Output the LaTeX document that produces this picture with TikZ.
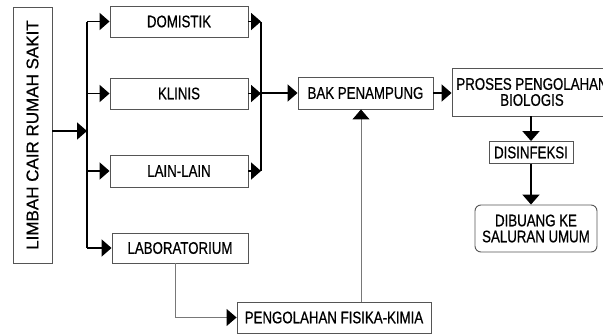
\documentclass[tikz,border=0pt]{standalone}
\usepackage{fontspec}
\setmainfont{Liberation Sans}[FakeStretch=0.79,FakeBold=0.6]
\newfontfamily\widefont{Liberation Sans}[FakeBold=0.6]
\usetikzlibrary{arrows.meta}
\definecolor{boxgray}{RGB}{85,85,85}
\definecolor{linegray}{RGB}{120,120,120}
\begin{document}
\begin{tikzpicture}[x=1pt,y=-1pt,
  box/.style={draw=boxgray, line width=0.9pt, inner sep=0pt, align=center,
    font=\fontsize{16.8}{16}\selectfont},
  flow/.style={line width=1.8pt, -{Triangle[length=10pt 0 0,width=17pt 0 0]}},
  plain/.style={line width=1.8pt},
  thinarrow/.style={draw=linegray, line width=1pt, -{Triangle[length=10pt 0 0,width=17pt 0 0,color=black]}}]
\useasboundingbox (0,0) rectangle (603,335);
\clip (0,0) rectangle (603,335);
\fill[white] (0,0) rectangle (603,335);

\node[box, minimum width=39pt, minimum height=256pt] (limbah) at (32.5,135)
  {\rotatebox{90}{\widefont\fontsize{17}{17}\selectfont LIMBAH CAIR RUMAH SAKIT}};
\node[box, minimum width=138pt, minimum height=31pt] (dom) at (179,21.5) {DOMISTIK};
\node[box, minimum width=138pt, minimum height=31pt] (kli) at (179,93.5) {KLINIS};
\node[box, minimum width=138pt, minimum height=32pt] (lain) at (179,171) {LAIN-LAIN};
\node[box, minimum width=136pt, minimum height=30pt] (lab) at (180,248) {LABORATORIUM};
\node[box, minimum width=194pt, minimum height=31pt] (fis) at (334,317.5) {PENGOLAHAN FISIKA-KIMIA};
\node[box, minimum width=135pt, minimum height=32pt] (bak) at (365.5,93) {BAK PENAMPUNG};
\node[box, minimum width=160pt, minimum height=48pt] (proses) at (532,92) {PROSES PENGOLAHAN\\BIOLOGIS};
\node[box, minimum width=84pt, minimum height=22pt] (dis) at (531,152.5) {DISINFEKSI};
\node[box, minimum width=122pt, minimum height=47pt, rounded corners=6pt] (dib) at (536,228.5) {DIBUANG KE\\SALURAN UMUM};

\coordinate (bl) at (87,131);
\coordinate (cx) at (261,93);
\coordinate (lx) at (175,0);
\coordinate (fx) at (361,0);

\draw[flow] (limbah.east |- bl) -- (bl);
\draw[plain] (bl |- dom.west) -- (bl |- lab.west);
\draw[flow] (bl |- dom.west) -- (dom.west);
\draw[flow] (bl |- kli.west) -- (kli.west);
\draw[flow] (bl |- lain.west) -- (lain.west);
\draw[flow] (bl |- lab.west) -- (lab.west);

\draw[plain] (cx |- dom.east) -- (cx |- lain.east);
\draw[flow] (dom.east) -- (cx |- dom.east);
\draw[flow] (kli.east) -- (cx |- kli.east);
\draw[flow] (lain.east) -- (cx |- lain.east);
\draw[flow] (cx |- bak.west) -- (bak.west);

\draw[flow] (bak.east) -- (proses.west |- bak.east);
\draw[flow] (dis.north |- proses.south) -- (dis.north);
\draw[flow] (dis.south) -- (dis.south |- dib.north);

\draw[thinarrow] (lx |- lab.south) |- (fis.west);
\draw[thinarrow] (fx |- fis.north) -- (fx |- bak.south);
\end{tikzpicture}
\end{document}
